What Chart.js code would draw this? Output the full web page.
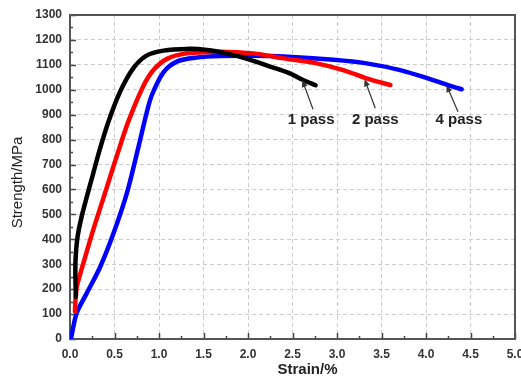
<!DOCTYPE html>
<html>
<head>
<meta charset="utf-8">
<script src="https://cdn.jsdelivr.net/npm/chart.js@4/dist/chart.umd.min.js"></script>
<style>
html,body{margin:0;padding:0;background:#fff;}
#wrap{width:521px;height:380px;position:relative;}
</style>
</head>
<body>
<div id="wrap"><canvas id="c" width="521" height="380"></canvas></div>
<script>
// ---- data ----
const seriesNames = ['1 pass', '2 pass', '4 pass'];
const strain1 = [0.066, 0.060, 0.064, 0.085, 0.13, 0.19, 0.25, 0.33, 0.43, 0.56, 0.71, 0.86, 1.05, 1.31, 1.54, 1.76, 1.99, 2.25, 2.47, 2.62, 2.76];
const stress1 = [170, 260, 330, 410, 490, 572, 650, 755, 870, 990, 1086, 1137, 1157, 1164, 1160, 1146, 1124, 1093, 1066, 1039, 1018];
const strain2 = [0.056, 0.062, 0.08, 0.15, 0.26, 0.375, 0.47, 0.56, 0.655, 0.82, 0.94, 1.09, 1.31, 1.69, 2.06, 2.40, 2.77, 3.07, 3.33, 3.60];
const stress2 = [110, 160, 215, 304, 437, 565, 672, 772, 872, 1012, 1080, 1124, 1146, 1153, 1146, 1126, 1106, 1079, 1046, 1019];
const strain4 = [0.01, 0.075, 0.19, 0.34, 0.49, 0.64, 0.77, 0.86, 0.92, 1.05, 1.20, 1.42, 1.69, 2.06, 2.40, 2.96, 3.33, 3.71, 4.08, 4.31, 4.40];
const stress4 = [0, 104, 185, 290, 425, 586, 772, 906, 979, 1070, 1113, 1129, 1135, 1136, 1133, 1120, 1106, 1079, 1039, 1012, 1002];
const seriesColors = ['#000000', '#ff0000', '#0000ff'];

const xTickValues = [0, 0.5, 1.0, 1.5, 2.0, 2.5, 3.0, 3.5, 4.0, 4.5, 5.0];
const yTickValues = [0, 100, 200, 300, 400, 500, 600, 700, 800, 900, 1000, 1100, 1200, 1300];

const annoLabels = ['1 pass', '2 pass', '4 pass'];
const annoTextX = [2.71, 3.43, 4.37];
const annoTextY = [879, 879, 879];
const arrowTailX = [2.73, 3.43, 4.36];
const arrowTailY = [922, 926, 912];
const arrowHeadX = [2.61, 3.31, 4.23];
const arrowHeadY = [1039, 1042, 1019];

const xTitle = 'Strain/%';
const yTitle = 'Strength/MPa';

// ---- build ----
function pts(xs, ys) { return xs.map((x, i) => ({x: x, y: ys[i]})); }
const FONT = '"Liberation Sans", Arial, sans-serif';

const decor = {
  id: 'decor',
  beforeDatasetsDraw(chart) {
    const {ctx, chartArea: a, scales: {x, y}} = chart;
    ctx.save();
    ctx.strokeStyle = '#444';
    ctx.lineWidth = 1.5;
    for (let v = 0; v <= 5.0001; v += 0.25) {
      const px = Math.round(x.getPixelForValue(v)) + 0.5;
      const major = Math.abs(v * 2 - Math.round(v * 2)) < 1e-6;
      ctx.beginPath();
      ctx.moveTo(px, a.bottom);
      ctx.lineTo(px, a.bottom - (major ? 6 : 3));
      ctx.stroke();
    }
    for (let v = 0; v <= 1300; v += 50) {
      const py = Math.round(y.getPixelForValue(v)) + 0.5;
      const major = v % 100 === 0;
      ctx.beginPath();
      ctx.moveTo(a.left, py);
      ctx.lineTo(a.left + (major ? 6 : 3), py);
      ctx.stroke();
    }
    ctx.strokeStyle = '#555';
    ctx.lineWidth = 2;
    ctx.strokeRect(a.left, a.top, a.right - a.left, a.bottom - a.top);
    ctx.restore();
  },
  afterDatasetsDraw(chart) {
    const {ctx, scales: {x, y}} = chart;
    ctx.save();
    for (let i = 0; i < annoLabels.length; i++) {
      const x0 = x.getPixelForValue(arrowTailX[i]), y0 = y.getPixelForValue(arrowTailY[i]);
      const x1 = x.getPixelForValue(arrowHeadX[i]), y1 = y.getPixelForValue(arrowHeadY[i]);
      const ang = Math.atan2(y1 - y0, x1 - x0);
      const hl = 7, hw = 3;
      ctx.strokeStyle = '#333';
      ctx.fillStyle = '#333';
      ctx.lineWidth = 1.2;
      ctx.beginPath();
      ctx.moveTo(x0, y0);
      ctx.lineTo(x1 - Math.cos(ang) * hl * 0.8, y1 - Math.sin(ang) * hl * 0.8);
      ctx.stroke();
      ctx.beginPath();
      ctx.moveTo(x1, y1);
      ctx.lineTo(x1 - Math.cos(ang) * hl - Math.sin(ang) * hw, y1 - Math.sin(ang) * hl + Math.cos(ang) * hw);
      ctx.lineTo(x1 - Math.cos(ang) * hl + Math.sin(ang) * hw, y1 - Math.sin(ang) * hl - Math.cos(ang) * hw);
      ctx.closePath();
      ctx.fill();
      ctx.fillStyle = '#222';
      ctx.font = 'bold 15px ' + FONT;
      ctx.textAlign = 'center';
      ctx.textBaseline = 'middle';
      ctx.fillText(annoLabels[i], x.getPixelForValue(annoTextX[i]), y.getPixelForValue(annoTextY[i]));
    }
    ctx.restore();
  },
  afterDraw(chart) {
    const {ctx} = chart;
    ctx.save();
    ctx.fillStyle = '#222';
    ctx.textAlign = 'center';
    ctx.textBaseline = 'middle';
    ctx.font = 'bold 15px ' + FONT;
    ctx.fillText(xTitle, 307.5, 370);
    ctx.translate(17.5, 182.5);
    ctx.rotate(-Math.PI / 2);
    ctx.font = '15px ' + FONT;
    ctx.fillText(yTitle, 0, 0);
    ctx.restore();
  }
};

const datasets = [
  {label: seriesNames[0], data: pts(strain1, stress1), borderColor: seriesColors[0]},
  {label: seriesNames[1], data: pts(strain2, stress2), borderColor: seriesColors[1]},
  {label: seriesNames[2], data: pts(strain4, stress4), borderColor: seriesColors[2]}
].map(d => Object.assign(d, {showLine: true, pointRadius: 0, borderWidth: 4.5, tension: 0.3, fill: false, borderCapStyle: 'round', borderJoinStyle: 'round'}));

new Chart(document.getElementById('c'), {
  type: 'scatter',
  data: {datasets},
  options: {
    responsive: false,
    animation: false,
    events: [],
    layout: {padding: {left: 0, right: 6, top: 15, bottom: 0}},
    plugins: {legend: {display: false}, tooltip: {enabled: false}},
    scales: {
      x: {
        type: 'linear', min: 0, max: 5,
        afterBuildTicks: s => { s.ticks = xTickValues.map(v => ({value: v})); },
        afterFit: s => { s.height = 41; s.paddingRight = 0; s.paddingLeft = 0; },
        ticks: {
          padding: 8, color: '#333', maxRotation: 0, autoSkip: false,
          font: {family: FONT, size: 12, weight: 'bold'},
          callback: v => Number(v).toFixed(1)
        },
        grid: {color: '#cccccc', lineWidth: 1, drawTicks: false},
        border: {display: false, dash: [4, 3]}
      },
      y: {
        type: 'linear', min: 0, max: 1300,
        afterBuildTicks: s => { s.ticks = yTickValues.map(v => ({value: v})); },
        afterFit: s => { s.width = 70; s.paddingTop = 0; s.paddingBottom = 0; },
        ticks: {
          padding: 8, color: '#333', autoSkip: false,
          font: {family: FONT, size: 12, weight: 'bold'},
          callback: v => String(v)
        },
        grid: {color: '#cccccc', lineWidth: 1, drawTicks: false},
        border: {display: false, dash: [4, 3]}
      }
    }
  },
  plugins: [decor]
});
</script>
</body>
</html>
